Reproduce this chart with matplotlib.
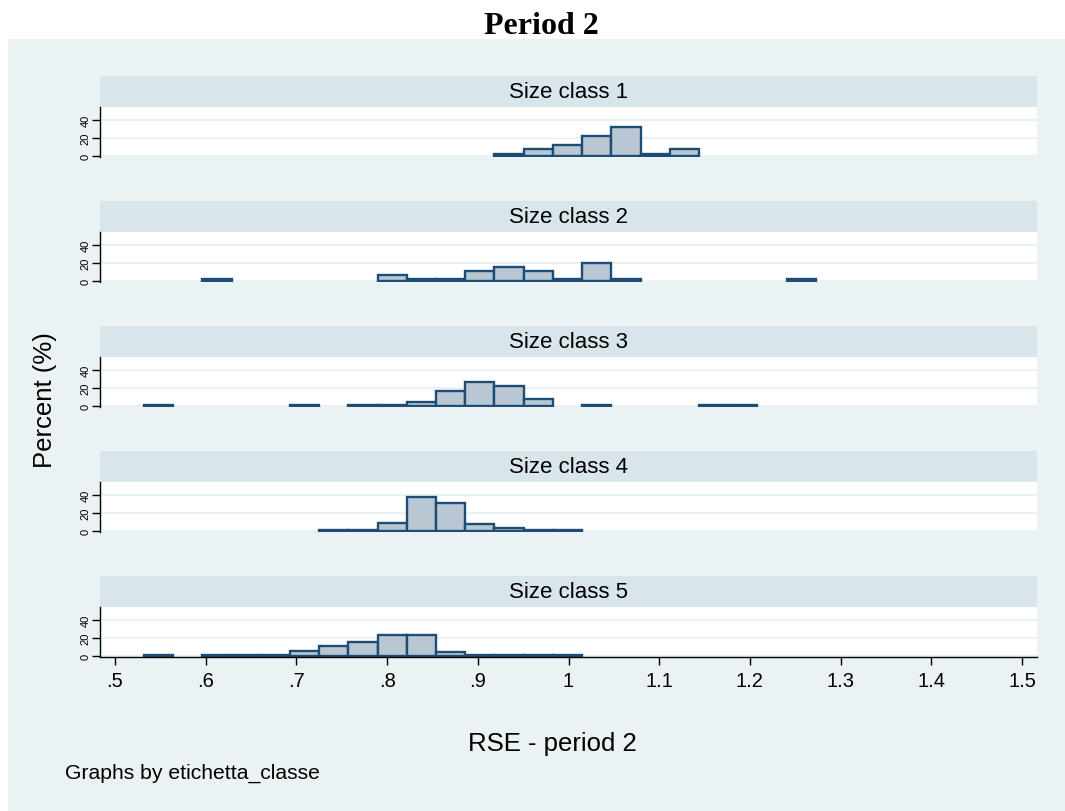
import numpy as np
import matplotlib
matplotlib.use('Agg')
import matplotlib.pyplot as plt

# histogram bins shared by all panels
bin_start = 0.532
bin_width = 0.0322
n_bins = 23

# percent per bin, one list per size class
pct_class1 = [0, 0, 0, 0, 0, 0, 0, 0, 0, 0, 0, 0, 2.6, 8, 12.5, 22, 32, 2.6, 8, 0, 0, 0, 0]
pct_class2 = [0, 0, 2.3, 0, 0, 0, 0, 0, 7, 2.3, 2.3, 11.4, 15.8, 11.4, 2.3, 20.5, 2.3, 0, 0, 0, 0, 0, 2.3]
pct_class3 = [1.2, 0, 0, 0, 0, 1.2, 0, 1.2, 1.2, 4.4, 16.5, 26.4, 22.4, 8.4, 0, 1.2, 0, 0, 0, 1.2, 1.2, 0, 0]
pct_class4 = [0, 0, 0, 0, 0, 0, 0.8, 0.8, 9.5, 37.8, 31.2, 8, 3.3, 0.8, 0.8, 0, 0, 0, 0, 0, 0, 0, 0]
pct_class5 = [1.2, 0, 0.8, 0.8, 0.8, 5.4, 11, 15.7, 22.9, 22.9, 4.6, 0.8, 0.8, 0.8, 0.8, 0, 0, 0, 0, 0, 0, 0, 0]

panel_titles = ['Size class 1', 'Size class 2', 'Size class 3', 'Size class 4', 'Size class 5']
panel_data = [pct_class1, pct_class2, pct_class3, pct_class4, pct_class5]

x_ticks = [0.5, 0.6, 0.7, 0.8, 0.9, 1.0, 1.1, 1.2, 1.3, 1.4, 1.5]
x_labels = ['.5', '.6', '.7', '.8', '.9', '1', '1.1', '1.2', '1.3', '1.4', '1.5']
y_ticks = [0, 20, 40]

bg_col = '#EAF2F3'
strip_col = '#D8E5EA'
fill_col = '#B9C7D3'
edge_col = '#1D4C77'

plt.rcParams['font.family'] = ['Liberation Sans', 'DejaVu Sans']

W, H = 1065.0, 812.0
fig = plt.figure(figsize=(W / 100, H / 100), dpi=100)
fig.patch.set_facecolor('white')

# graph region background
bax = fig.add_axes([8 / W, 0, 1 - 8 / W, 1 - 40 / H], zorder=-1)
bax.set_facecolor(bg_col)
bax.set_xticks([]); bax.set_yticks([])
for s in bax.spines.values():
    s.set_visible(False)

fig.text(541 / W, 1 - 26 / H, 'Period 2', ha='center', va='center', fontsize=23,
         fontweight='bold', family='Liberation Serif')

left_px, right_px = 100, 1037
edges = bin_start + bin_width * np.arange(n_bins)

for ii, (title, pct) in enumerate(zip(panel_titles, panel_data)):
    off = 125 * ii
    # strip
    sax = fig.add_axes([left_px / W, 1 - (108 + off) / H, (right_px - left_px) / W, 31 / H])
    sax.set_facecolor(strip_col)
    sax.set_xticks([]); sax.set_yticks([])
    for s in sax.spines.values():
        s.set_visible(False)
    sax.text(0.5, 0.5, title, ha='center', va='center', fontsize=16, transform=sax.transAxes)

    ax = fig.add_axes([left_px / W, 1 - (158 + off) / H, (right_px - left_px) / W, 50 / H])
    ax.set_facecolor('white')
    ax.set_xlim(0.4835, 1.5165)
    ax.set_ylim(-1, 54.5)
    for y in y_ticks:
        ax.axhline(y, color=bg_col, lw=1.5, zorder=0)
    pct = np.array(pct, dtype=float)
    mask = pct > 0
    ax.bar(edges[mask], pct[mask], width=bin_width, align='edge', bottom=0,
           color=fill_col, edgecolor=edge_col, linewidth=1.7, zorder=2)
    ax.set_yticks(y_ticks)
    ax.set_yticklabels([str(v) for v in y_ticks], rotation=90, va='center', fontsize=8)
    ax.tick_params(axis='y', length=6, width=1, pad=1)
    for s in ['top', 'right']:
        ax.spines[s].set_visible(False)
    ax.spines['left'].set_linewidth(1)
    if ii < 4:
        ax.spines['bottom'].set_visible(False)
        ax.set_xticks([])
    else:
        ax.spines['bottom'].set_linewidth(1)
        ax.set_xticks(x_ticks)
        ax.set_xticklabels(x_labels, fontsize=14.5)
        ax.tick_params(axis='x', length=6, width=1, pad=4)

fig.text(45 / W, 1 - 400 / H, 'Percent (%)', rotation=90, ha='center', va='center', fontsize=18.5)
fig.text(552 / W, 1 - 744 / H, 'RSE - period 2', ha='center', va='center', fontsize=18.5)
fig.text(65 / W, 1 - 773 / H, 'Graphs by etichetta_classe', ha='left', va='center', fontsize=15.2)

fig.savefig('out.png', dpi=100, facecolor=fig.get_facecolor())
